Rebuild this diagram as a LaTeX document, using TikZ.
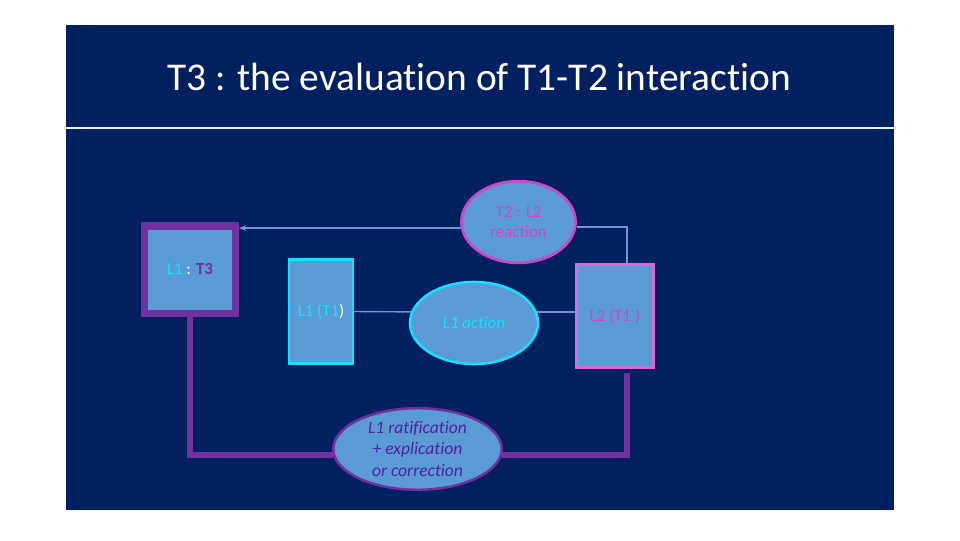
\documentclass[tikz,border=0pt]{standalone}
\usepackage{fontspec}
\setmainfont{Carlito}[Ligatures=NoCommon]
\usetikzlibrary{shapes.geometric,arrows.meta}

\definecolor{slidenavy}{RGB}{0,32,96}
\definecolor{boxblue}{RGB}{91,155,213}
\definecolor{tpurple}{RGB}{112,48,160}
\definecolor{tcyan}{RGB}{20,225,255}
\definecolor{tmagenta}{RGB}{204,70,204}
\definecolor{linkblue}{RGB}{110,150,215}

\tikzset{
    stagebox/.style={
        draw,
        fill=boxblue,
        rectangle,
        inner sep=0pt,
        align=center,
        font=\fontsize{12}{14}\selectfont
    },
    stagebubble/.style={
        draw,
        fill=boxblue,
        ellipse,
        inner sep=0pt,
        align=center,
        font=\fontsize{12}{14}\selectfont
    },
    link/.style={draw=linkblue, line width=1pt},
    loopback/.style={draw=tpurple, line width=4.3pt}
}

\begin{document}
\begin{tikzpicture}[x=0.025cm, y=-0.025cm]

\useasboundingbox (0,0) rectangle (960,540);
\fill[white] (0,0) rectangle (960,540);
\fill[slidenavy] (66,25) rectangle (894,510);
\draw[white!85!gray, line width=1pt] (66,128) -- (894,128);

\node[
    text=white,
    font=\fontsize{28}{32}\selectfont
] (title) at (479,77)
{T3 : the evaluation of T1-T2 interaction};

\node[
    stagebox,
    draw=tpurple,
    line width=5pt,
    minimum width=2.275cm,
    minimum height=2.175cm
] (t3box) at (190,269.5)
{\textcolor{tcyan}{L1} \textcolor{white}{:} \textcolor{tpurple}{\textbf{T3}}};

\node[
    stagebox,
    draw=tcyan,
    line width=1.8pt,
    minimum width=1.59cm,
    minimum height=2.61cm
] (t1box) at (321,311.5)
{\textcolor{tcyan}{L1 (T1}\textcolor{white}{)}};

\node[
    stagebubble,
    draw=tcyan,
    line width=1.8pt,
    minimum width=3.2cm,
    minimum height=2.05cm,
    text=tcyan,
    font=\fontsize{12}{14}\selectfont\itshape
] (action) at (474,323)
{L1 action};

\node[
    stagebubble,
    draw=tmagenta,
    line width=2pt,
    minimum width=2.85cm,
    minimum height=2.04cm,
    text=tmagenta
] (reaction) at (518.5,222)
{T2 : L2\\reaction};

\node[
    stagebox,
    draw=tmagenta!80!white,
    line width=2pt,
    minimum width=1.925cm,
    minimum height=2.575cm,
    text=tmagenta
] (l2box) at (615,316)
{L2 (T1')};

\node[
    stagebubble,
    draw=tpurple,
    line width=1.8pt,
    minimum width=4.21cm,
    minimum height=2.04cm,
    text=tpurple!80!blue!90!black,
    font=\fontsize{12.5}{15}\selectfont\itshape
] (ratify) at (417.5,449)
{L1 ratification\\
 + explication\\
 or correction};

\draw[link, -{Stealth[length=5pt, width=4pt]}] (reaction.186) -- (reaction.186 -| t3box.east);
\draw[link] (reaction.-5) -| ([xshift=0.3cm]l2box.north);
\draw[link] (t1box.east) -- (action.170);
\draw[link] (action.10) -- (action.10 -| l2box.west);

\draw[loopback] (t3box.south) |- (ratify.184);
\draw[loopback] (ratify.-4) -| ([xshift=0.3cm, yshift=-0.1cm]l2box.south);

\end{tikzpicture}
\end{document}
